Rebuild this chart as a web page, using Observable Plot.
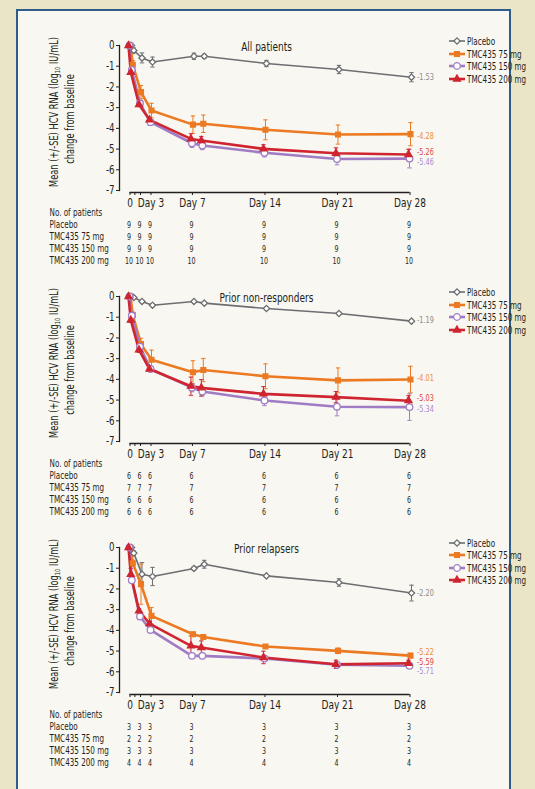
<!DOCTYPE html>
<html>
<head>
<meta charset="utf-8">
<script src="https://cdn.jsdelivr.net/npm/d3@7"></script>
<script src="https://cdn.jsdelivr.net/npm/@observablehq/plot@0.6"></script>
<style>
  html, body { margin: 0; padding: 0; }
  body {
    width: 535px; height: 789px; overflow: hidden; position: relative;
    background: #ebe5c8;
    font-family: "Liberation Sans Narrow", "DejaVu Sans Condensed", sans-serif;
    color: #231f20;
  }
  #frame {
    position: absolute; left: 16px; top: 9px; width: 495px; height: 800px;
    box-sizing: border-box; background: #f8f7f1;
    border: 2px solid #2e5d8c; border-bottom: none;
  }
  .abs { position: absolute; }
  .ylab {
    position: absolute; width: 170px; height: 32px; line-height: 16px;
    text-align: center; font-size: 11.5px; transform: rotate(-90deg) scaleX(0.8);
    white-space: nowrap;
  }
  .ylab sub { font-size: 7px; vertical-align: -2px; line-height: 0; }
  .legend { position: absolute; font-size: 10.5px; }
  .legend .row { height: 12.4px; display: flex; align-items: center; white-space: nowrap; }
  .legend svg { margin-right: 2px; flex: none; }
  .legend span { display: inline-block; transform: scaleX(0.76); transform-origin: left center; }
</style>
</head>
<body>
<div id="frame"></div>
<script>
// ---------- data ----------
const times = [0, 0.33, 1.5, 3, 7, 8, 14, 21, 28];
const seriesNames = ["Placebo", "TMC435 75 mg", "TMC435 150 mg", "TMC435 200 mg"];
const panelTitles = ["All patients", "Prior non-responders", "Prior relapsers"];

// All patients
const allPlacebo   = [0, -0.24, -0.60, -0.80, -0.52, -0.52, -0.87, -1.16, -1.53];
const allPlaceboSE = [0, 0.12, 0.24, 0.24, 0.15, 0.10, 0.15, 0.20, 0.22];
const all75        = [0, -0.93, -2.25, -3.14, -3.82, -3.78, -4.07, -4.30, -4.28];
const all75SE      = [0, 0.20, 0.32, 0.35, 0.42, 0.42, 0.48, 0.46, 0.56];
const all150       = [0, -1.18, -2.79, -3.70, -4.72, -4.83, -5.18, -5.48, -5.46];
const all150SE     = [0, 0.10, 0.10, 0.10, 0.20, 0.20, 0.20, 0.28, 0.45];
const all200       = [0, -1.29, -2.85, -3.59, -4.51, -4.59, -4.99, -5.20, -5.26];
const all200SE     = [0, 0.10, 0.10, 0.10, 0.25, 0.20, 0.20, 0.26, 0.25];
const allEndLabels = ["-1.53", "-4.28", "-5.46", "-5.26"];
const allCounts    = [9, 9, 9, 10];

// Prior non-responders
const nrPlacebo   = [0, -0.05, -0.24, -0.42, -0.24, -0.32, -0.58, -0.82, -1.19];
const nrPlaceboSE = [0, 0.03, 0.05, 0.06, 0.05, 0.05, 0.06, 0.06, 0.06];
const nr75        = [0, -0.90, -2.30, -3.05, -3.66, -3.55, -3.85, -4.05, -4.01];
const nr75SE      = [0, 0.15, 0.28, 0.46, 0.56, 0.56, 0.60, 0.60, 0.64];
const nr150       = [0, -0.93, -2.42, -3.50, -4.40, -4.59, -5.02, -5.32, -5.34];
const nr150SE     = [0, 0.10, 0.10, 0.12, 0.20, 0.20, 0.25, 0.44, 0.64];
const nr200       = [0, -1.14, -2.58, -3.50, -4.33, -4.41, -4.70, -4.86, -5.03];
const nr200SE     = [0, 0.10, 0.12, 0.12, 0.44, 0.40, 0.35, 0.27, 0.24];
const nrEndLabels = ["-1.19", "-4.01", "-5.34", "-5.03"];
const nrCounts    = [6, 7, 6, 6];

// Prior relapsers
const rlPlacebo   = [0, -0.27, -1.29, -1.40, -1.01, -0.81, -1.37, -1.69, -2.20];
const rlPlaceboSE = [0, 0.10, 0.56, 0.44, 0.08, 0.19, 0.05, 0.18, 0.38];
const rl75        = [0, -0.76, -1.77, -3.30, -4.19, -4.32, -4.78, -4.99, -5.22];
const rl75SE      = [0, 0.15, 0.97, 0.40, 0.10, 0.10, 0.05, 0.13, 0.05];
const rl150       = [0, -1.58, -3.33, -3.98, -5.23, -5.23, -5.36, -5.66, -5.71];
const rl150SE     = [0, 0.08, 0.10, 0.10, 0.08, 0.08, 0.10, 0.10, 0.08];
const rl200       = [0, -1.29, -3.06, -3.67, -4.75, -4.83, -5.31, -5.64, -5.59];
const rl200SE     = [0, 0.28, 0.10, 0.10, 0.48, 0.32, 0.30, 0.20, 0.15];
const rlEndLabels = ["-2.20", "-5.22", "-5.71", "-5.59"];
const rlCounts    = [3, 2, 3, 4];

// axes / table
const yTicks = [0, -1, -2, -3, -4, -5, -6, -7];
const xTicks = [0, 0.7, 1.5, 3, 7, 14, 21, 28];
const xTickLabels = ["0", "", "", "Day 3", "Day 7", "Day 14", "Day 21", "Day 28"];
const tableDays = [0, 1.5, 3, 7, 14, 21, 28];
const tableHeader = "No. of patients";

// ---------- styles ----------
const ink = "#231f20";
const seriesColors = ["#6d6e71", "#ec7a23", "#a07cc5", "#cf2530"];
const labelColors  = ["#8a8b8e", "#ef8b3e", "#a98bd1", "#df4440"];
const seriesSymbols = ["diamond2", "square", "circle", "triangle"];
const legendSymbols = [d3.symbolDiamond2, d3.symbolSquare, d3.symbolCircle, d3.symbolTriangle];
const seriesFills = ["#ffffff", "#ec7a23", "#ffffff", "#cf2530"];
const seriesWidths = [1.6, 2.6, 2.6, 2.6];
const seriesR = [2.8, 2.7, 3.3, 2.6];
const seriesDx = [1.5, 0.5, -0.5, -1.5];
const drawOrder = [0, 1, 2, 3];
const panelTops = [0, 251, 501.5];
const panelLabelDy = [[0, 1.5, 4, -2], [-1.3, -1.4, 2, -3], [0, -3.5, 5.5, -1.5]];
const condenseFactor = 0.8;
const numberCondenseFactor = 0.74;

const panels = [
  { title: panelTitles[0], values: [allPlacebo, all75, all150, all200], se: [allPlaceboSE, all75SE, all150SE, all200SE], ends: allEndLabels, counts: allCounts },
  { title: panelTitles[1], values: [nrPlacebo, nr75, nr150, nr200], se: [nrPlaceboSE, nr75SE, nr150SE, nr200SE], ends: nrEndLabels, counts: nrCounts },
  { title: panelTitles[2], values: [rlPlacebo, rl75, rl150, rl200], se: [rlPlaceboSE, rl75SE, rl150SE, rl200SE], ends: rlEndLabels, counts: rlCounts }
];

// The time axis is compressed before Day 3 (piecewise): map days to axis units
const dayPos = d3.scaleLinear().domain([0, 3, 28]).range([0, 2.027, 27.027]);
const xLabelMap = new Map(xTicks.map((t, i) => [dayPos(t), xTickLabels[i]]));
const xScale = { domain: [dayPos(0), dayPos(28)], range: [129.5, 409.5] };
const capSymbol = {
  draw(ctx, size) { const r = Math.sqrt(size / Math.PI); ctx.moveTo(-r, 0); ctx.lineTo(r, 0); }
};
const font = '"Liberation Sans Narrow", "DejaVu Sans Condensed", sans-serif';

function chartPlot(p, pi) {
  const marks = [
    Plot.ruleY([-7], { x1: dayPos(0), x2: dayPos(28), dy: 2, stroke: ink, strokeWidth: 1.3 }),
    Plot.frame({ anchor: "left", stroke: ink, strokeWidth: 1.3 }),
    Plot.axisY({ ticks: yTicks, tickFormat: d => String(d), tickSize: 3, tickPadding: 2, fontSize: 12, label: null }),
    Plot.axisX({ ticks: xTicks.map(dayPos), tickFormat: d => xLabelMap.get(d), tickSize: 3, tickPadding: 3, dy: 2, fontSize: 12.5, label: null }),
    Plot.text([p.title], { frameAnchor: "top", dx: -2, dy: -3, fontSize: 12.5, fill: ink })
  ];
  const rows = p.values.map((vals, k) => vals.map((v, i) => ({ t: dayPos(times[i]), v, e: p.se[k][i] })));
  // error bars
  drawOrder.forEach(k => {
    const eb = rows[k].filter(d => d.e > 0);
    marks.push(Plot.ruleX(eb, { x: "t", y1: d => d.v - d.e, y2: d => d.v + d.e, dx: seriesDx[k], stroke: seriesColors[k], strokeWidth: 1 }));
    marks.push(Plot.dot(eb, { x: "t", y: d => d.v - d.e, dx: seriesDx[k], symbol: capSymbol, r: 2.2, stroke: seriesColors[k], strokeWidth: 1, fill: "none" }));
    marks.push(Plot.dot(eb, { x: "t", y: d => d.v + d.e, dx: seriesDx[k], symbol: capSymbol, r: 2.2, stroke: seriesColors[k], strokeWidth: 1, fill: "none" }));
  });
  // lines
  drawOrder.forEach(k => {
    marks.push(Plot.line(rows[k], { x: "t", y: "v", dx: seriesDx[k], stroke: seriesColors[k], strokeWidth: seriesWidths[k], curve: "linear" }));
  });
  // markers
  drawOrder.forEach(k => {
    marks.push(Plot.dot(rows[k], { x: "t", y: "v", dx: seriesDx[k], symbol: seriesSymbols[k], r: seriesR[k], fill: seriesFills[k], stroke: seriesColors[k], strokeWidth: 1.3 }));
  });
  // end labels
  drawOrder.forEach(k => {
    const last = rows[k][rows[k].length - 1];
    marks.push(Plot.text([last], { x: "t", y: "v", text: () => p.ends[k], dx: 7, dy: panelLabelDy[pi][k], textAnchor: "start", fontSize: 9, fill: labelColors[k] }));
  });
  return Plot.plot({
    width: 535, height: 185,
    marginTop: 20, marginBottom: 20, marginLeft: 119, marginRight: 118,
    x: xScale,
    y: { domain: [-7, 0] },
    style: { background: "transparent", fontFamily: font, color: ink, overflow: "visible" },
    marks
  });
}

function tablePlot(p) {
  const rowNames = [tableHeader, ...seriesNames];
  const cells = [];
  seriesNames.forEach((name, k) => tableDays.forEach(t => cells.push({ row: name, t: dayPos(t), n: p.counts[k] })));
  return Plot.plot({
    width: 535, height: 65,
    marginTop: 7, marginBottom: 7, marginLeft: 49, marginRight: 20,
    x: { ...xScale, axis: null },
    y: { type: "point", domain: rowNames, padding: 0, axis: null },
    style: { background: "transparent", fontFamily: font, color: ink, overflow: "visible" },
    marks: [
      Plot.text(rowNames, { y: d => d, text: d => d, frameAnchor: "left", textAnchor: "start", fontSize: 10, fill: ink }),
      Plot.text(cells, { x: "t", y: "row", text: "n", dx: -1, fontSize: 9.5, fill: ink })
    ]
  });
}

function condense(root, f, fNum) {
  root.querySelectorAll("text").forEach(t => {
    const s = t.textContent.trim();
    if (!s) return;
    const L = t.getComputedTextLength();
    const factor = /^\d+$/.test(s) ? fNum : f;
    if (L > 0) {
      t.setAttribute("textLength", (L * factor).toFixed(2));
      t.setAttribute("lengthAdjust", "spacingAndGlyphs");
    }
  });
}

panels.forEach((p, pi) => {
  const P = panelTops[pi];
  const c = document.createElement("div");
  c.className = "abs"; c.style.left = "0px"; c.style.top = (P + 25) + "px";
  c.appendChild(chartPlot(p, pi));
  document.body.appendChild(c);
  condense(c, condenseFactor, condenseFactor);

  const t = document.createElement("div");
  t.className = "abs"; t.style.left = "0px"; t.style.top = (P + 203) + "px";
  t.appendChild(tablePlot(p));
  document.body.appendChild(t);
  condense(t, condenseFactor, numberCondenseFactor);

  // y-axis title
  const yl = document.createElement("div");
  yl.className = "ylab";
  yl.style.left = (62 - 85) + "px";
  yl.style.top = (P + 119 - 16) + "px";
  yl.innerHTML = "Mean (+/-SE) HCV RNA (log<sub>10</sub> IU/mL)<br>change from baseline";
  document.body.appendChild(yl);

  // legend
  const lg = d3.select("body").append("div").attr("class", "legend")
    .style("left", "449px").style("top", (P + 45 - 3.5 - 6.2) + "px");
  seriesNames.forEach((name, k) => {
    const row = lg.append("div").attr("class", "row");
    const s = row.append("svg").attr("width", 16).attr("height", 10);
    s.append("line").attr("x1", 0).attr("x2", 16).attr("y1", 5).attr("y2", 5)
      .attr("stroke", seriesColors[k]).attr("stroke-width", seriesWidths[k]);
    s.append("path").attr("transform", "translate(8,5)")
      .attr("d", d3.symbol(legendSymbols[k], Math.PI * seriesR[k] * seriesR[k])())
      .attr("fill", seriesFills[k]).attr("stroke", seriesColors[k]).attr("stroke-width", 1.3);
    row.append("span").text(name);
  });
});
</script>
</body>
</html>
